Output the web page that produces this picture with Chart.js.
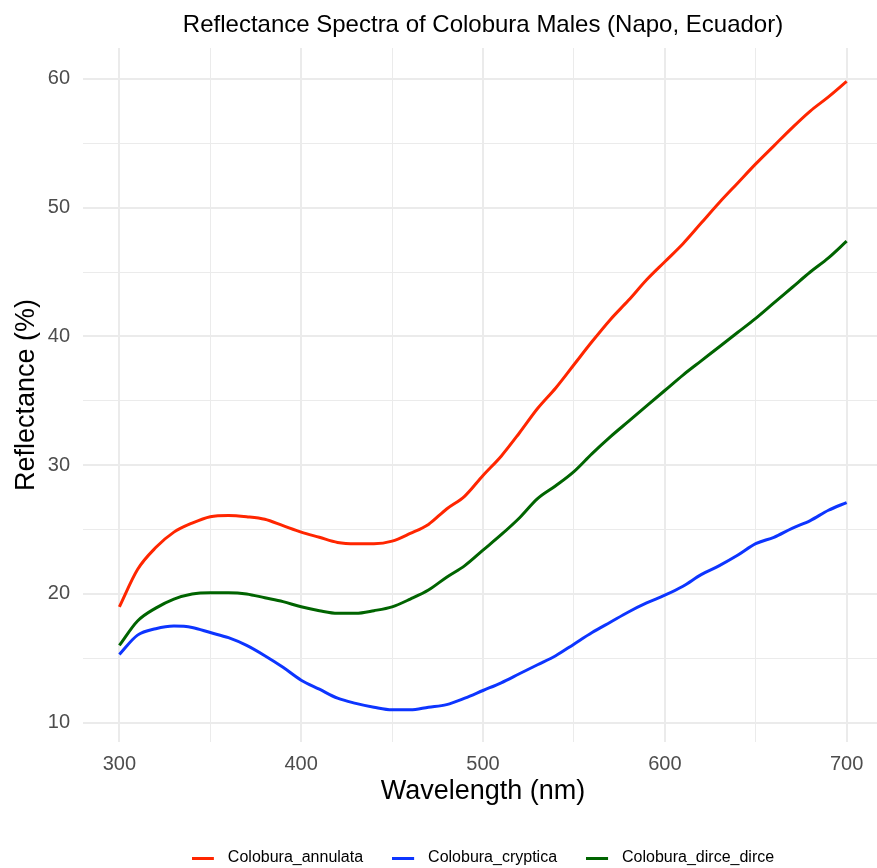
<!DOCTYPE html>
<html>
<head>
<meta charset="utf-8">
<title>Reflectance Spectra of Colobura Males</title>
<script src="https://cdn.jsdelivr.net/npm/chart.js@4.4.1/dist/chart.umd.min.js"></script>
<style>
    html, body { margin: 0; padding: 0; background: #ffffff; overflow: hidden; }
    canvas { display: block; }
</style>
</head>
<body>
<canvas id="spectraChart" width="884" height="876"></canvas>
<script>
// Wavelength (nm) and reflectance (%)
const wavelengths = [300, 310, 320, 330, 340, 350, 360, 370, 380, 390,
                     400, 410, 420, 430, 440, 450, 460, 470, 480, 490,
                     500, 510, 520, 530, 540, 550, 560, 570, 580, 590,
                     600, 610, 620, 630, 640, 650, 660, 670, 680, 690, 700];

const annulata = [19.0, 21.9, 23.6, 24.8, 25.5, 26.0, 26.1, 26.0, 25.8, 25.3,
                  24.8, 24.4, 24.0, 23.9, 23.9, 24.1, 24.7, 25.4, 26.6, 27.6,
                  29.2, 30.7, 32.5, 34.4, 36.0, 37.8, 39.6, 41.3, 42.8, 44.4,
                  45.8, 47.2, 48.8, 50.4, 51.9, 53.4, 54.8, 56.2, 57.5, 58.6, 59.8];

const cryptica = [15.3, 16.8, 17.3, 17.5, 17.4, 17.0, 16.6, 16.0, 15.2, 14.3,
                  13.3, 12.6, 11.9, 11.5, 11.2, 11.0, 11.0, 11.2, 11.4, 11.9,
                  12.5, 13.1, 13.8, 14.5, 15.2, 16.1, 17.0, 17.8, 18.6, 19.3,
                  19.9, 20.6, 21.5, 22.2, 23.0, 23.9, 24.4, 25.1, 25.7, 26.5, 27.1];

const dirceDirce = [16.0, 17.9, 18.9, 19.6, 20.0, 20.1, 20.1, 20.0, 19.7, 19.4,
                    19.0, 18.7, 18.5, 18.5, 18.7, 19.0, 19.6, 20.3, 21.3, 22.2,
                    23.4, 24.6, 25.9, 27.4, 28.4, 29.5, 30.9, 32.2, 33.4, 34.6,
                    35.8, 37.0, 38.1, 39.2, 40.3, 41.4, 42.6, 43.8, 45.0, 46.1, 47.4];

const seriesNames = ['Colobura_annulata', 'Colobura_cryptica', 'Colobura_dirce_dirce'];
const seriesColors = ['#FF2600', '#0D35FF', '#006400'];
const xTicks = [300, 350, 400, 450, 500, 550, 600, 650, 700];
const yTicks = [10, 15, 20, 25, 30, 35, 40, 45, 50, 55, 60];

const FONT = "'Liberation Sans', Arial, Helvetica, sans-serif";

function toPoints(values) {
    return wavelengths.map((w, i) => ({ x: w, y: values[i] }));
}

function makeDataset(label, values, color) {
    return {
        label: label,
        data: toPoints(values),
        borderColor: color,
        backgroundColor: color,
        borderWidth: 3,
        pointRadius: 0,
        cubicInterpolationMode: 'monotone',
        fill: false
    };
}

// small legend key: short line segment followed by empty space before the text
function legendKey(color) {
    const c = document.createElement('canvas');
    c.width = 28;
    c.height = 3;
    const g = c.getContext('2d');
    g.fillStyle = color;
    g.fillRect(0, 0, 22, 3);
    return c;
}

const ctx = document.getElementById('spectraChart').getContext('2d');

new Chart(ctx, {
    type: 'line',
    data: {
        datasets: [
            makeDataset(seriesNames[0], annulata, seriesColors[0]),
            makeDataset(seriesNames[1], cryptica, seriesColors[1]),
            makeDataset(seriesNames[2], dirceDirce, seriesColors[2])
        ]
    },
    options: {
        responsive: false,
        animation: false,
        devicePixelRatio: 1,
        layout: { padding: { left: 0, right: 1, top: 0, bottom: 0 } },
        plugins: {
            title: {
                display: true,
                fullSize: false,
                text: 'Reflectance Spectra of Colobura Males (Napo, Ecuador)',
                color: '#000000',
                font: { family: FONT, size: 24, weight: 'normal', lineHeight: 1.2 },
                padding: { top: 10.6, bottom: 8.6 }
            },
            legend: {
                position: 'bottom',
                fullSize: false,
                labels: {
                    usePointStyle: true,
                    pointStyleWidth: 28,
                    boxHeight: 3,
                    padding: 29,
                    color: '#000000',
                    font: { family: FONT, size: 16 },
                    generateLabels: function(chart) {
                        return chart.data.datasets.map((ds, i) => ({
                            text: ds.label,
                            fillStyle: ds.borderColor,
                            strokeStyle: ds.borderColor,
                            lineWidth: 0,
                            pointStyle: legendKey(ds.borderColor),
                            hidden: false,
                            datasetIndex: i
                        }));
                    }
                }
            },
            tooltip: { enabled: false }
        },
        scales: {
            x: {
                type: 'linear',
                min: 280,
                max: 720,
                afterBuildTicks: function(axis) {
                    axis.ticks = xTicks.map(v => ({ value: v }));
                },
                afterFit: function(scale) {
                    scale.height = 79;
                },
                border: { display: false },
                grid: {
                    color: '#EBEBEB',
                    drawTicks: false,
                    lineWidth: function(c) {
                        return c.tick && c.tick.value % 100 === 0 ? 2 : 1;
                    }
                },
                ticks: {
                    autoSkip: false,
                    maxRotation: 0,
                    padding: 10,
                    color: '#4D4D4D',
                    font: { family: FONT, size: 20 },
                    callback: function(v) {
                        return v % 100 === 0 ? String(v) : '';
                    }
                },
                title: {
                    display: true,
                    text: 'Wavelength (nm)',
                    color: '#000000',
                    font: { family: FONT, size: 27, lineHeight: 1.2 },
                    padding: { top: 0, bottom: 12.8 }
                }
            },
            y: {
                type: 'linear',
                min: 8.5,
                max: 62.4,
                afterBuildTicks: function(axis) {
                    axis.ticks = yTicks.map(v => ({ value: v }));
                },
                afterFit: function(scale) {
                    scale.width = 83;
                },
                border: { display: false },
                grid: {
                    color: '#EBEBEB',
                    drawTicks: false,
                    lineWidth: function(c) {
                        return c.tick && c.tick.value % 10 === 0 ? 2 : 1;
                    }
                },
                ticks: {
                    autoSkip: false,
                    padding: 13,
                    color: '#4D4D4D',
                    font: { family: FONT, size: 20 },
                    callback: function(v) {
                        return v % 10 === 0 ? String(v) : '';
                    }
                },
                title: {
                    display: true,
                    text: 'Reflectance (%)',
                    color: '#000000',
                    font: { family: FONT, size: 27, lineHeight: 1.2 },
                    padding: { top: 10, bottom: 0 }
                }
            }
        }
    }
});
</script>
</body>
</html>
